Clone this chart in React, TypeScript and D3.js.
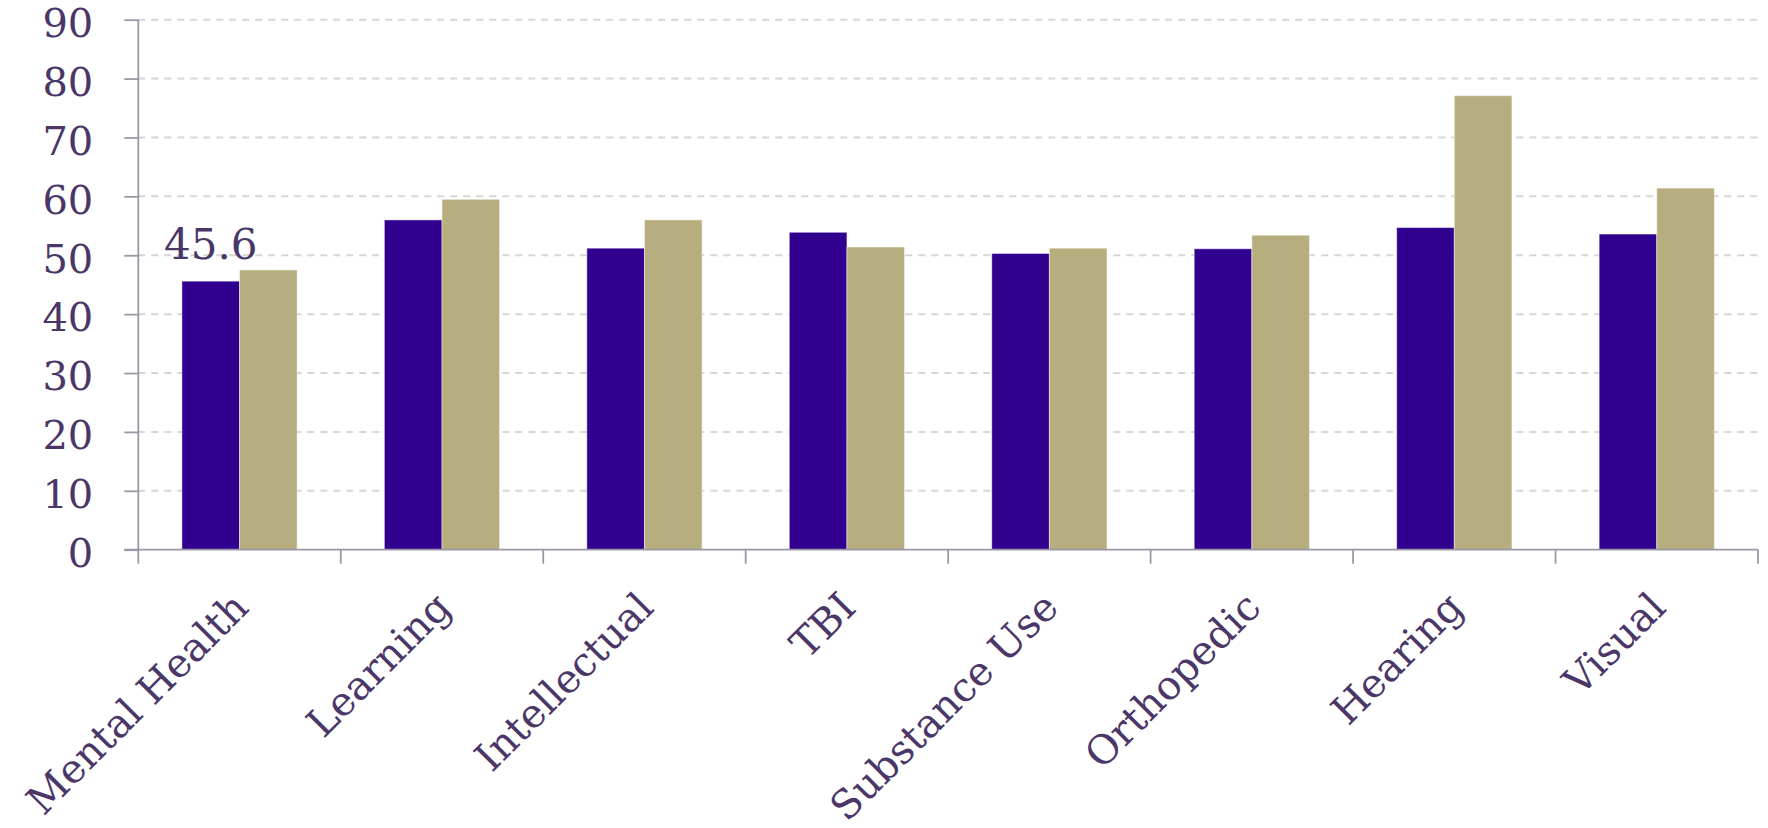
import { useEffect, useRef } from "react";
import * as d3 from "d3";

// Disability categories on the x axis
const categories = [
  "Mental Health",
  "Learning",
  "Intellectual",
  "TBI",
  "Substance Use",
  "Orthopedic",
  "Hearing",
  "Visual",
];

// Two series
const seriesNames = ["first", "second"];
const firstValues = [45.6, 56.0, 51.2, 53.9, 50.3, 51.1, 54.7, 53.6];
const secondValues = [47.5, 59.5, 56.0, 51.4, 51.2, 53.4, 77.1, 61.4];

const yTicks = [0, 10, 20, 30, 40, 50, 60, 70, 80, 90];

// only the first bar carries a data label
const labelled = [{ category: "Mental Health", series: "first", value: 45.6 }];

const COLORS: Record<string, string> = {
  first: "#31008e",
  second: "#b7ae7f",
};

const TEXT = "#4b3668";
const AXIS = "#9d95a8";
const FONT = "'DejaVu Serif', Georgia, serif";

export default function App() {
  const svgRef = useRef<SVGSVGElement>(null);
  const width = 1768;
  const height = 828;

  useEffect(() => {
    if (!svgRef.current) return;
    const svg = d3.select(svgRef.current);
    svg.selectAll("*").remove();

    const left = 138.3, right = 1758;
    const top = 19.7, bottom = 549.7;

    const x0 = d3.scaleBand<string>().domain(categories).range([left, right]).padding(0);
    const x1 = d3.scaleBand<string>().domain(seriesNames).range([0, x0.bandwidth()])
      .paddingInner(0).paddingOuter(0.757);
    const y = d3.scaleLinear().domain([0, 90]).range([bottom, top]);

    // Gridlines
    svg.append("g")
      .selectAll("line")
      .data(yTicks.filter((t) => t > 0))
      .join("line")
      .attr("x1", left).attr("x2", right)
      .attr("y1", (d) => y(d)).attr("y2", (d) => y(d))
      .attr("stroke", "#d6d6d6").attr("stroke-width", 2)
      .attr("stroke-dasharray", "7,6");

    // Bars
    const rows = categories.map((c, i) => ({
      category: c,
      values: [
        { series: "first", value: firstValues[i] },
        { series: "second", value: secondValues[i] },
      ],
    }));

    svg.append("g")
      .selectAll("g")
      .data(rows)
      .join("g")
      .attr("transform", (d) => `translate(${x0(d.category)},0)`)
      .selectAll("rect")
      .data((d) => d.values)
      .join("rect")
      .attr("x", (d) => x1(d.series)!)
      .attr("width", x1.bandwidth())
      .attr("y", (d) => y(d.value))
      .attr("height", (d) => y(0) - y(d.value))
      .attr("fill", (d) => COLORS[d.series])
      .attr("stroke", "#ffffff").attr("stroke-opacity", 0.45).attr("stroke-width", 1);

    // Y axis
    const yAxis = svg.append("g").attr("transform", `translate(${left},0)`)
      .call(d3.axisLeft(y).tickValues(yTicks).tickSize(14).tickPadding(31).tickFormat(d3.format("d")));
    yAxis.selectAll(".domain").attr("stroke", AXIS).attr("stroke-width", 1.8).attr("d", `M0,${bottom}V${top}`);
    yAxis.selectAll(".tick line").attr("stroke", AXIS).attr("stroke-width", 1.8);
    yAxis.selectAll(".tick text")
      .attr("fill", TEXT).attr("font-family", FONT).attr("font-size", 40)
      .attr("dy", "0.42em");

    // X axis: ticks sit on the category boundaries
    const bounds = categories.map((c) => x0(c)!).concat([right]);
    const xAxis = svg.append("g");
    xAxis.append("line")
      .attr("x1", left - 14).attr("x2", right)
      .attr("y1", bottom).attr("y2", bottom)
      .attr("stroke", AXIS).attr("stroke-width", 1.8);
    xAxis.selectAll("line.tick")
      .data(bounds)
      .join("line")
      .attr("class", "tick")
      .attr("x1", (d) => d).attr("x2", (d) => d)
      .attr("y1", bottom).attr("y2", bottom + 14)
      .attr("stroke", AXIS).attr("stroke-width", 1.8);

    xAxis.selectAll("text")
      .data(categories)
      .join("text")
      .attr("transform", (d) => `translate(${x0(d)! + x0.bandwidth() / 2 + 11},${bottom + 60}) rotate(-45)`)
      .attr("text-anchor", "end")
      .attr("fill", TEXT).attr("font-family", FONT).attr("font-size", 40)
      .text((d) => d);

    // Data label
    svg.append("g")
      .selectAll("text")
      .data(labelled)
      .join("text")
      .attr("x", (d) => x0(d.category)! + x1(d.series)! + x1.bandwidth() / 2)
      .attr("y", (d) => y(d.value) - 22)
      .attr("text-anchor", "middle")
      .attr("fill", TEXT).attr("font-family", FONT).attr("font-size", 42)
      .text((d) => d.value.toFixed(1));
  }, []);

  return (
    <svg
      ref={svgRef}
      width={width}
      height={height}
      style={{ position: "absolute", left: 0, top: 0, background: "#ffffff" }}
    />
  );
}
